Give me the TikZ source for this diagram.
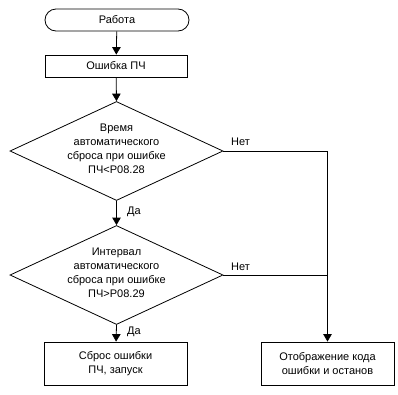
\documentclass[tikz,border=0pt]{standalone}
\usepackage{fontspec}
\setmainfont{Liberation Sans}
\usetikzlibrary{shapes.geometric,arrows.meta}
\begin{document}
\begin{tikzpicture}[x=1pt,y=-1pt,
  every node/.style={font=\fontsize{11}{14}\selectfont},
  line/.style={draw=black,line width=0.8pt},
  arr/.style={line,-{Triangle[length=7.5pt,width=8.5pt]}},
  procbox/.style={draw=black,line width=0.8pt,rectangle,inner sep=0pt,align=center},
  termbox/.style={draw=black,line width=0.8pt,rectangle,rounded corners=11pt,inner sep=0pt,minimum width=144pt,minimum height=22pt},
  dia/.style={draw=black,line width=0.8pt,diamond,inner sep=0pt,minimum width=213pt,minimum height=99pt},
  txt/.style={align=center,inner sep=0pt},
  lbl/.style={inner sep=0pt,anchor=base west}]
\useasboundingbox (0,0) rectangle (398,394);
\node[termbox] (start) at (117,20) {Работа};
\node[procbox,minimum width=142pt,minimum height=22pt] (err) at (116,66) {Ошибка ПЧ};
\node[dia] (d1) at (116.5,151) {};
\node[txt] (d1t) at (116.5,149) {Время\\автоматического\\сброса при ошибке\\ПЧ<P08.28};
\node[dia] (d2) at (116.5,275) {};
\node[txt] (d2t) at (116.5,273) {Интервал\\автоматического\\сброса при ошибке\\ПЧ>P08.29};
\node[procbox,minimum width=143pt,minimum height=43pt] (reset) at (115.5,363.5) {Сброс ошибки\\ПЧ, запуск};
\node[procbox,minimum width=133pt,minimum height=43pt] (stop) at (327.5,363.5) {Отображение кода\\ошибки и останов};
\coordinate (j) at (stop.north |- d2.east);
\draw[arr] (start) -- (err);
\draw[arr] (err) -- (d1.north);
\draw[arr] (d1.south) -- (d2.north);
\draw[arr] (d2.south) -- (reset);
\draw[arr] (d1.east) -| (stop.north);
\draw[line] (d2.east) -- (j);
\node[lbl] (n1) at (231,145) {Нет};
\node[lbl] (n2) at (231,270) {Нет};
\node[lbl] (y1) at (127,214) {Да};
\node[lbl] (y2) at (127,334) {Да};
\end{tikzpicture}
\end{document}
